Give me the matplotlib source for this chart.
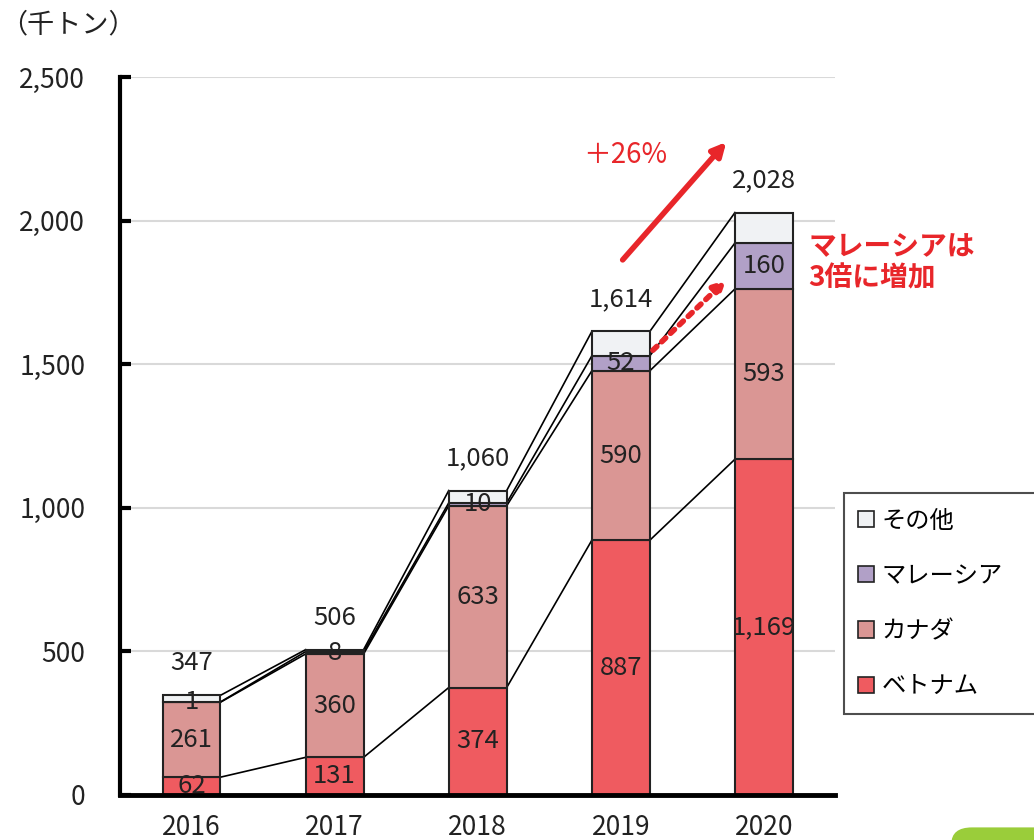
import numpy as np
import matplotlib.pyplot as plt
from matplotlib.patches import Patch, FancyBboxPatch

plt.rcParams['font.family'] = ['Noto Sans CJK JP', 'DejaVu Sans']

years = ['2016', '2017', '2018', '2019', '2020']
vietnam = [62, 131, 374, 887, 1169]
canada = [261, 360, 633, 590, 593]
malaysia = [1, 8, 10, 52, 160]
other = [23, 7, 43, 85, 106]
totals = [347, 506, 1060, 1614, 2028]

series = [
    ('ベトナム', vietnam, '#EF5B60', True),
    ('カナダ', canada, '#DA9694', True),
    ('マレーシア', malaysia, '#B1A0C7', True),
    ('その他', other, '#F0F2F4', False),
]

fig = plt.figure(figsize=(10.34, 8.4), dpi=100)
ax = fig.add_axes([0.116, 0.0536, 0.692, 0.8547])

x = np.arange(len(years))
w = 0.405
bottom = np.zeros(len(years))
for name, vals, col, show in series:
    vals = np.array(vals)
    ax.bar(x, vals, w, bottom=bottom, color=col, edgecolor='#222222', linewidth=1.5, zorder=3)
    top = bottom + vals
    # connector lines between bars
    for i in range(len(years) - 1):
        ax.plot([x[i] + w / 2, x[i + 1] - w / 2], [top[i], top[i + 1]],
                color='black', lw=1.2, zorder=2)
    if show:
        for i, v in enumerate(vals):
            ax.text(x[i], bottom[i] + v / 2, f'{v:,}', ha='center', va='center',
                    fontsize=18.5, color='#222222', zorder=4)
    bottom = top

for i, t in enumerate(totals):
    ax.annotate(f'{t:,}', (x[i], t), xytext=(0, 19), textcoords='offset pixels',
                ha='center', va='bottom', fontsize=18.5, color='#222222')

ax.set_xlim(-0.5, 4.5)
ax.set_ylim(0, 2500)
ax.set_yticks(np.arange(0, 2501, 500))
ax.set_yticklabels([f'{v:,}' for v in range(0, 2501, 500)])
ax.set_xticks(x)
ax.set_xticklabels(years)
ax.yaxis.grid(True, color='#D9D9D9', lw=1.5, zorder=0)
ax.set_axisbelow(True)
for s in ['top', 'right']:
    ax.spines[s].set_visible(False)
ax.spines['left'].set_linewidth(3)
ax.spines['bottom'].set_linewidth(3.5)
ax.spines['left'].set_zorder(5)
ax.spines['bottom'].set_zorder(5)
ax.tick_params(axis='y', direction='in', length=8, width=3, pad=25, labelsize=19, labelcolor='#222222')
ax.tick_params(axis='x', length=0, pad=14, labelsize=19, labelcolor='#222222')

# annotations
red = '#E8262A'
ax.annotate('', xy=(3.75, 2281), xytext=(3.0, 1856),
            arrowprops=dict(arrowstyle='-|>,head_length=0.8,head_width=0.4', color=red, lw=4))
ax.text(3.03, 2228, '＋26%', color=red, fontsize=20, ha='center', va='center')
ax.annotate('', xy=(3.75, 1800), xytext=(3.21, 1542),
            arrowprops=dict(arrowstyle='-|>,head_length=0.7,head_width=0.35', color=red,
                            lw=4, linestyle=(0, (1, 1.2))))
ax.text(4.31, 1855, 'マレーシアは\n3倍に増加', color=red, fontsize=20, fontweight='bold',
        ha='left', va='center', linespacing=1.2)

fig.text(0.0, 1 - 25 / 840, '（千トン）', fontsize=19.5, color='#222222', va='center', ha='left')

handles = [Patch(facecolor=c, edgecolor='#222222', lw=1.2, label=n) for n, _, c, _ in series][::-1]
leg = fig.legend(handles=handles, loc='upper left', bbox_to_anchor=(0.816, 0.413, 0.2, 0.0),
                 mode='expand', fontsize=17.5, frameon=True, fancybox=False, edgecolor='#222222',
                 handlelength=0.65, handleheight=0.65, handletextpad=0.3, labelspacing=1.2,
                 borderpad=0.6, borderaxespad=0)
leg.get_frame().set_linewidth(1.5)

fig.patches.append(FancyBboxPatch((0.92, -0.03), 0.1, 0.045, boxstyle='round,pad=0,rounding_size=0.02',
                                  transform=fig.transFigure, facecolor='#9ACD3A', edgecolor='none'))

fig.savefig('out.png', dpi=100)
